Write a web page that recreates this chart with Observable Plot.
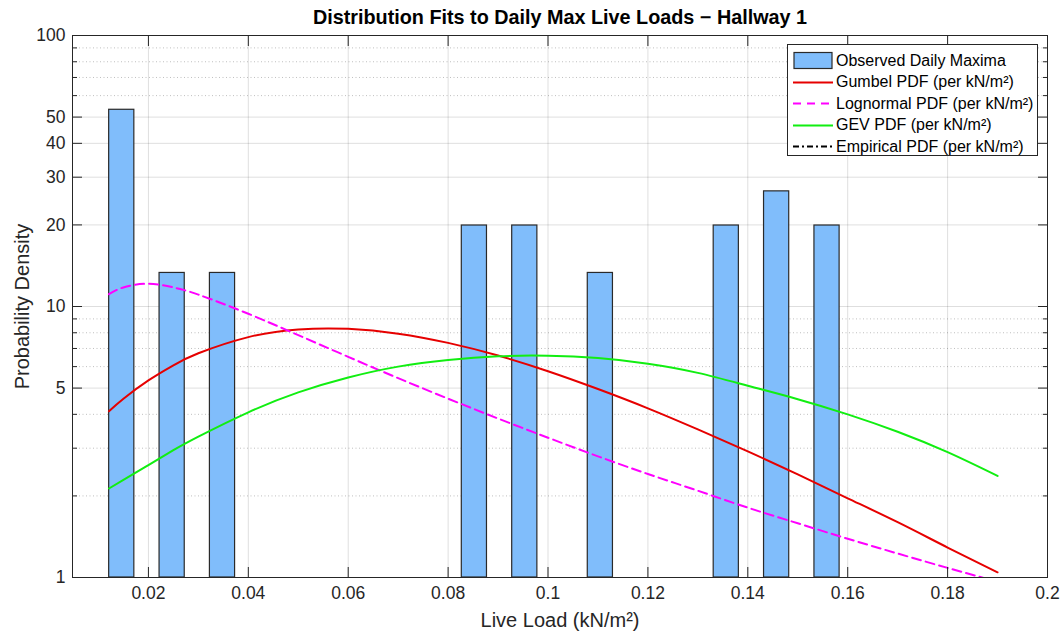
<!DOCTYPE html>
<html><head><meta charset="utf-8">
<script src="https://cdn.jsdelivr.net/npm/d3@7"></script>
<script src="https://cdn.jsdelivr.net/npm/@observablehq/plot@0.6"></script>
<style>
body{margin:0;background:#fff;}
#wrap{position:relative;width:1064px;height:635px;font-family:"Liberation Sans",Arial,Helvetica,sans-serif;}
#legend{position:absolute;left:787px;top:44px;width:251px;height:112px;border:1px solid #262626;background:#fff;box-sizing:border-box;}
.row{position:absolute;left:5px;height:21px;display:flex;align-items:center;font-size:16px;color:#000;white-space:nowrap;}
.row svg{margin-right:3px;}
</style></head><body><div id="wrap"></div>
<script>
// Histogram bins (Live Load, kN/m²) and probability density
const binStart = [0.01214, 0.02223, 0.03231, 0.08274, 0.09283, 0.10796, 0.13317, 0.14325, 0.15334];
const binEnd   = [0.01718, 0.02727, 0.03735, 0.08778, 0.09787, 0.11300, 0.13821, 0.14829, 0.15838];
const density  = [53.2, 13.3, 13.3, 19.9, 19.9, 13.3, 19.9, 26.6, 19.9];

// Fitted PDF curves
const loadX = [0.0121, 0.015, 0.02, 0.025, 0.03, 0.04, 0.05, 0.06, 0.07, 0.08, 0.09, 0.10, 0.11, 0.12, 0.13, 0.14, 0.15, 0.16, 0.17, 0.18, 0.19];
const gumbelPdf    = [4.11, 4.57, 5.34, 6.07, 6.72, 7.71, 8.23, 8.27, 7.94, 7.34, 6.59, 5.77, 4.96, 4.21, 3.52, 2.92, 2.40, 1.96, 1.60, 1.29, 1.045];
const lognormalPdf = [11.1, 11.76, 12.13, 11.76, 11.06, 9.40, 7.84, 6.52, 5.44, 4.57, 3.86, 3.28, 2.80, 2.41, 2.09, 1.81, 1.585, 1.39, 1.226, 1.085, 0.964];
const gevPdf       = [2.13, 2.29, 2.60, 2.95, 3.31, 4.07, 4.82, 5.47, 6.00, 6.35, 6.55, 6.58, 6.45, 6.15, 5.69, 5.10, 4.55, 4.00, 3.45, 2.90, 2.37];

// Ticks
const xTicks = [0.02, 0.04, 0.06, 0.08, 0.1, 0.12, 0.14, 0.16, 0.18, 0.2];
const yMajor = [1, 5, 10, 20, 30, 40, 50, 100];
const yMinor = [2, 3, 4, 6, 7, 8, 9, 60, 70, 80, 90];

const titleText = "Distribution Fits to Daily Max Live Loads \u2212 Hallway 1";
const xLabel = "Live Load (kN/m\u00b2)";
const yLabel = "Probability Density";
const legendLabels = ["Observed Daily Maxima", "Gumbel PDF (per kN/m\u00b2)", "Lognormal PDF (per kN/m\u00b2)", "GEV PDF (per kN/m\u00b2)", "Empirical PDF (per kN/m\u00b2)"];

const bars = binStart.map((s, i) => ({x1: s, x2: binEnd[i], d: density[i]}));
const curve = (vals) => loadX.map((x, i) => ({x, y: vals[i]}));

const barFill = "#80bdfb", barStroke = "#2a2a2a";
const cRed = "#e60000", cMag = "#ff00ff", cGreen = "#11ee11";
const axisColor = "#262626";

const plot = Plot.plot({
  width: 1064, height: 635,
  marginLeft: 72, marginRight: 17, marginTop: 35, marginBottom: 58,
  x: {domain: [0.0048, 0.2]},
  y: {type: "log", domain: [1, 100]},
  style: {fontFamily: '"Liberation Sans", Arial, Helvetica, sans-serif', fontSize: "17.5px", color: axisColor, background: "#fff", overflow: "visible"},
  marks: [
    Plot.gridX(xTicks, {stroke: "#000", strokeOpacity: 0.13}),
    Plot.gridY(yMinor, {stroke: "#000", strokeOpacity: 0.25, strokeDasharray: "1,2.5"}),
    Plot.gridY(yMajor, {stroke: "#000", strokeOpacity: 0.13}),
    Plot.rectY(bars, {x1: "x1", x2: "x2", y1: 1, y2: "d", fill: barFill, stroke: barStroke, strokeWidth: 1.2, clip: true}),
    Plot.line(curve(gumbelPdf), {x: "x", y: "y", stroke: cRed, strokeWidth: 2, curve: "natural", clip: true}),
    Plot.line(curve(lognormalPdf), {x: "x", y: "y", stroke: cMag, strokeWidth: 2, strokeDasharray: "9,5", curve: "natural", clip: true}),
    Plot.line(curve(gevPdf), {x: "x", y: "y", stroke: cGreen, strokeWidth: 2, curve: "natural", clip: true}),
    Plot.frame({stroke: axisColor, strokeWidth: 1}),
    // inward tick marks
    Plot.axisX(xTicks, {anchor: "bottom", tickSize: -10, fill: "none", label: null, stroke: axisColor}),
    Plot.axisX(xTicks, {anchor: "top", tickSize: -10, fill: "none", label: null, stroke: axisColor}),
    Plot.axisY(yMajor, {anchor: "left", tickSize: -10, fill: "none", label: null, stroke: axisColor}),
    Plot.axisY(yMajor, {anchor: "right", tickSize: -10, fill: "none", label: null, stroke: axisColor}),
    Plot.axisY(yMinor, {anchor: "left", tickSize: -5, fill: "none", label: null, stroke: axisColor}),
    Plot.axisY(yMinor, {anchor: "right", tickSize: -5, fill: "none", label: null, stroke: axisColor}),
    // tick labels
    Plot.axisX(xTicks, {anchor: "bottom", tickSize: 0, tickPadding: 9, label: null, fill: axisColor, tickFormat: d => String(+d.toFixed(2))}),
    Plot.axisY(yMajor, {anchor: "left", tickSize: 0, tickPadding: 7, label: null, fill: axisColor, tickFormat: d => String(d)}),
    // titles
    Plot.text([titleText], {text: d => d, frameAnchor: "top", textAnchor: "middle", lineAnchor: "middle", dy: -18, fontWeight: "bold", fontSize: 19.8, fill: "#000"}),
    Plot.text([xLabel], {text: d => d, frameAnchor: "bottom", textAnchor: "middle", lineAnchor: "middle", dy: 43, fontSize: 20, fill: axisColor}),
    Plot.text([yLabel], {text: d => d, frameAnchor: "left", textAnchor: "middle", lineAnchor: "middle", dx: -50, rotate: -90, fontSize: 20, fill: axisColor})
  ]
});

const wrap = document.getElementById("wrap");
wrap.appendChild(plot);

// Legend
const legend = document.createElement("div");
legend.id = "legend";
const swatches = [
  `<rect x="1" y="2.5" width="38" height="16" fill="${barFill}" stroke="${barStroke}" stroke-width="1.2"/>`,
  `<line x1="0" x2="40" y1="10.5" y2="10.5" stroke="${cRed}" stroke-width="2"/>`,
  `<line x1="0" x2="40" y1="10.5" y2="10.5" stroke="${cMag}" stroke-width="2" stroke-dasharray="8,6"/>`,
  `<line x1="0" x2="40" y1="10.5" y2="10.5" stroke="${cGreen}" stroke-width="2"/>`,
  `<line x1="0" x2="40" y1="10.5" y2="10.5" stroke="#000" stroke-width="2" stroke-dasharray="6,3,2,3"/>`
];
const rowTops = [5, 26.5, 48, 69.5, 91];
legendLabels.forEach((lab, i) => {
  const r = document.createElement("div");
  r.className = "row";
  r.style.top = rowTops[i] + "px";
  r.innerHTML = `<svg width="40" height="21">${swatches[i]}</svg><span>${lab}</span>`;
  legend.appendChild(r);
});
wrap.appendChild(legend);
</script>
</body></html>
